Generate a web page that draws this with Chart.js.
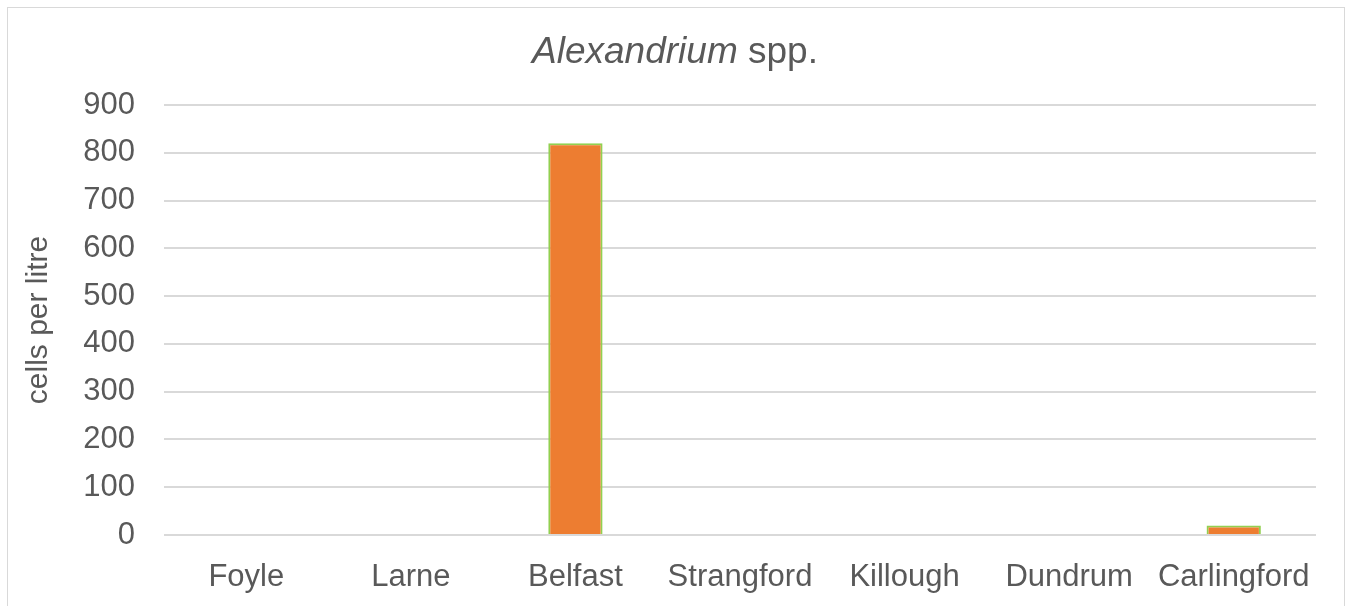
<!DOCTYPE html>
<html lang="en">
<head>
    <title>Alexandrium spp.</title>
    <script src="https://cdn.jsdelivr.net/npm/chart.js"></script>
    <style>
        body { margin: 0; background: #fff; overflow: hidden; }
        .frame { position: absolute; left: 7px; top: 7px; width: 1336px; height: 700px; border: 1px solid #d9d9d9; }
        .chart-container { position: absolute; left: 0; top: 0; width: 1346px; height: 606px; }
    </style>
</head>
<body>

<div class="frame"></div>
<div class="chart-container">
    <canvas id="algaeChart" width="1346" height="606"></canvas>
</div>

<script>
    const sites = ['Foyle', 'Larne', 'Belfast', 'Strangford', 'Killough', 'Dundrum', 'Carlingford'];
    const cellsPerLitre = [0, 0, 820, 0, 0, 0, 20];
    const yTicks = [0, 100, 200, 300, 400, 500, 600, 700, 800, 900];

    const FONT = '"Liberation Sans", Arial, sans-serif';
    const GREY = '#595959';

    // title has an italic genus name, so draw it by hand
    const titlePlugin = {
        id: 'mixedTitle',
        afterDraw(chart) {
            const c = chart.ctx;
            const parts = [
                { text: 'Alexandrium', font: 'italic 37px ' + FONT },
                { text: ' spp.', font: '37px ' + FONT }
            ];
            let total = 0;
            parts.forEach(p => { c.font = p.font; p.w = c.measureText(p.text).width; total += p.w; });
            let x = 675 - total / 2;
            c.save();
            c.fillStyle = GREY;
            c.textBaseline = 'alphabetic';
            parts.forEach(p => { c.font = p.font; c.fillText(p.text, x, 63); x += p.w; });
            c.restore();
        }
    };

    const ctx = document.getElementById('algaeChart').getContext('2d');
    new Chart(ctx, {
        type: 'bar',
        data: {
            labels: sites,
            datasets: [{
                label: 'Alexandrium spp.',
                data: cellsPerLitre,
                backgroundColor: '#ED7D31',
                borderColor: '#92D050',
                borderWidth: 2,
                barPercentage: 0.33,
                categoryPercentage: 1
            }]
        },
        options: {
            responsive: false,
            animation: false,
            maintainAspectRatio: false,
            layout: { padding: { top: 105, right: 30, left: 21, bottom: 0 } },
            plugins: {
                legend: { display: false },
                title: { display: false },
                tooltip: { enabled: false }
            },
            scales: {
                x: {
                    grid: { display: false },
                    border: { display: false },
                    ticks: { color: GREY, font: { family: FONT, size: 31 }, padding: 16 },
                    afterFit: scale => { scale.height = 71; }
                },
                y: {
                    min: 0,
                    max: 900,
                    afterBuildTicks: scale => { scale.ticks = yTicks.map(v => ({ value: v })); },
                    grid: { color: '#d9d9d9', lineWidth: 2, drawTicks: false },
                    border: { display: false },
                    ticks: { color: GREY, font: { family: FONT, size: 31 }, padding: 29 },
                    title: { display: true, text: 'cells per litre', color: GREY, font: { family: FONT, size: 30 }, padding: 0 },
                    afterFit: scale => { scale.width = 143; }
                }
            }
        },
        plugins: [titlePlugin]
    });
</script>

</body>
</html>
